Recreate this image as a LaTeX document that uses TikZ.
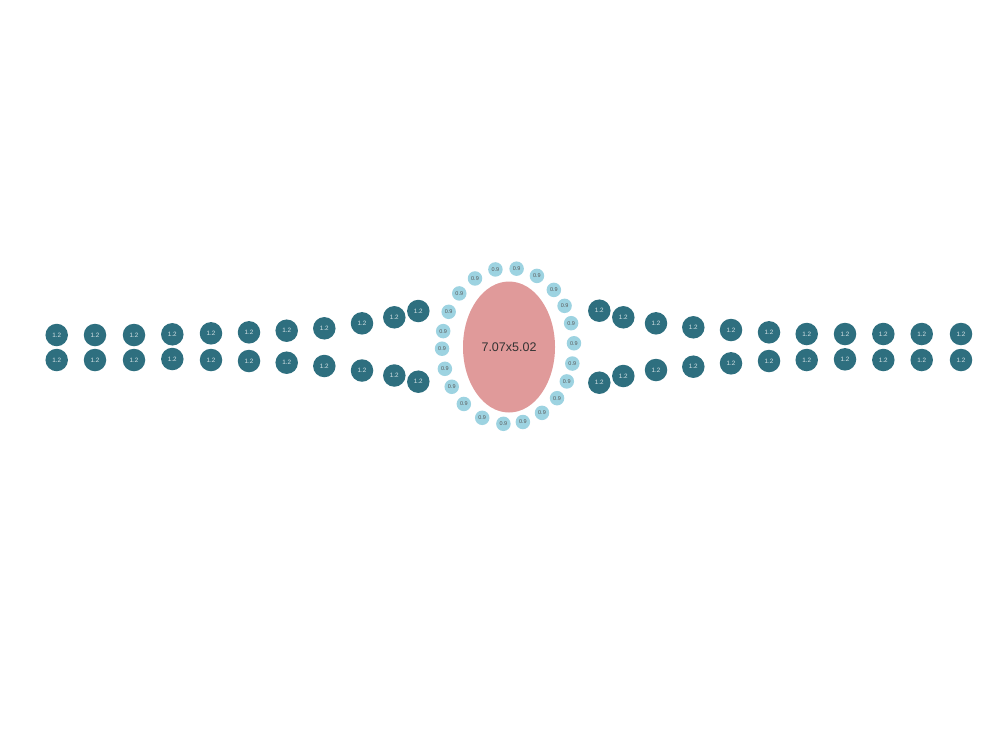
\documentclass[tikz,border=0pt]{standalone}
\usepackage{fontspec}
\setmainfont{Liberation Sans}
\usetikzlibrary{shapes.geometric, calc}
\definecolor{seatdark}{HTML}{2E6F7F}
\definecolor{seatlight}{HTML}{9DD3E1}
\definecolor{tablepink}{HTML}{E09A9A}

\begin{document}
\begin{tikzpicture}[x=1pt, y=-1pt,
  bigseat/.style={circle, fill=seatdark, inner sep=0pt, minimum size=22.5pt, text=white!80!seatdark, font=\fontsize{6.3}{6.3}\selectfont},
  smallseat/.style={circle, fill=seatlight, inner sep=0pt, minimum size=14.5pt, text=black!65, font=\fontsize{5.5}{5.5}\selectfont},
  tabletop/.style={ellipse, fill=tablepink, inner sep=0pt, minimum width=92pt, minimum height=131pt, text=black!80, font=\fontsize{12.5}{13}\selectfont}]
\useasboundingbox (0,0) rectangle (1000,750);
% centre table
\node[tabletop] (egg) at (509,347) {7.07x5.02};
% ring of small seats
\foreach \a [count=\i] in {101,82.5,64,46,31,17,2,-13,-27,-42,-59,-77,-94,-113,-132,-148.5,-163,-178,169,154,137.6,120}
  \node[smallseat] (s\i) at ($(508,346)+(\a:66 and -78)$) {0.9};
% left arms
\foreach \x/\y [count=\i] in {56.7/335,95/335,134/335,172.3/334.3,211/333.3,249/332.3,286.7/330.7,324.3/328.3,362/323.3,394.3/317.3,418.3/311}
  \node[bigseat] (lt\i) at (\x,\y) {1.2};
\foreach \x/\y [count=\i] in {56.7/360,95/360,134/360,172.3/359,211/360,249/361,286.7/362.7,324.3/366,362/370.5,394.3/375.5,418.3/381.7}
  \node[bigseat] (lb\i) at (\x,\y) {1.2};
% right arms
\foreach \x/\y [count=\i] in {599.3/310.7,623.3/317.3,656/323.3,693.3/327.3,731/330,769/332.3,806.7/334,845/334,883.3/334,921.7/334,961/334}
  \node[bigseat] (rt\i) at (\x,\y) {1.2};
\foreach \x/\y [count=\i] in {599.3/382.7,623.3/376,656/370,693.3/366.7,731/363.3,769/361,806.7/360,845/359.3,883.3/360,921.7/360,961/360}
  \node[bigseat] (rb\i) at (\x,\y) {1.2};
\end{tikzpicture}
\end{document}
